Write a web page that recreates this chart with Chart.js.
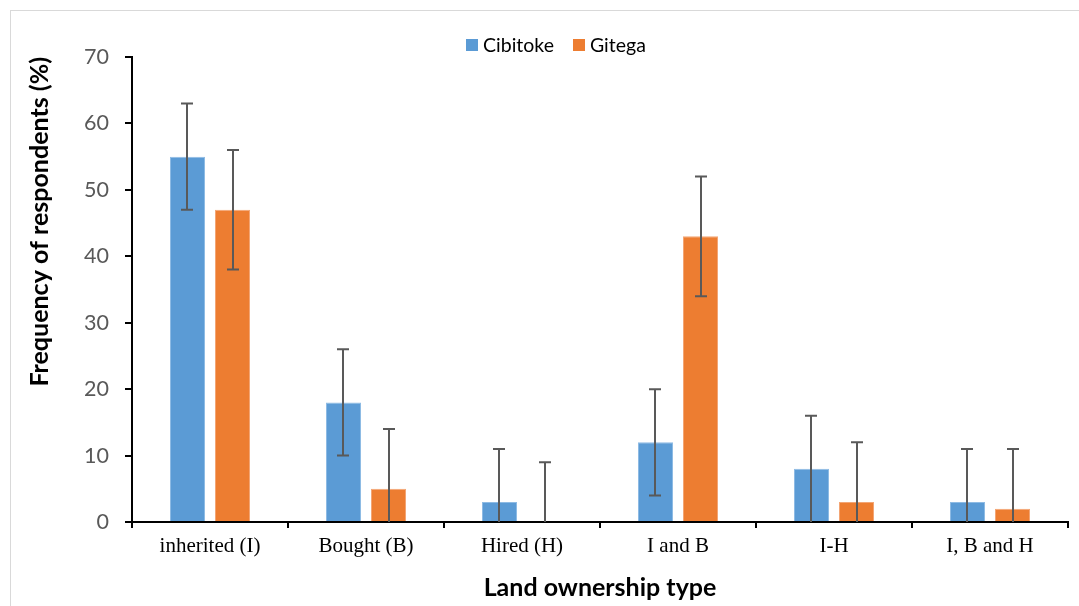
<!DOCTYPE html>
<html>
<head>
<meta charset="utf-8">
<script src="https://cdn.jsdelivr.net/npm/chart.js@4"></script>
<style>
    body { margin: 0; background: #fff; overflow: hidden; }
    #wrap { position: relative; width: 1079px; height: 606px; }
    #frame { position: absolute; left: 10px; top: 10px; width: 1100px; height: 700px; border: 1px solid #d9d9d9; box-sizing: border-box; }
    #legend { position: absolute; left: 466px; top: 33px; display: flex; align-items: center; font-family: Lato, sans-serif; font-size: 19.5px; color: #000; }
    #legend .item { display: flex; align-items: center; margin-right: 19px; }
    #legend .box { width: 12px; height: 12px; margin-right: 5px; }
    canvas { position: absolute; left: 0; top: 0; }
</style>
</head>
<body>
<div id="wrap">
    <div id="frame"></div>
    <canvas id="chart" width="1079" height="606"></canvas>
    <div id="legend"></div>
</div>
<script>
const categories = ['inherited (I)', 'Bought (B)', 'Hired (H)', 'I and B', 'I-H', 'I, B and H'];
const cibitoke = [55, 18, 3, 12, 8, 3];
const gitega = [47, 5, 0, 43, 3, 2];
const cibitokeErr = [8, 8, 8, 8, 8, 8];
const gitegaErr = [9, 9, 9, 9, 9, 9];
const seriesNames = ['Cibitoke', 'Gitega'];
const seriesColors = ['#5B9BD5', '#ED7D31'];
const errors = [cibitokeErr, gitegaErr];

// legend in html so it sits where the original one is
const legend = document.getElementById('legend');
seriesNames.forEach((name, i) => {
    const item = document.createElement('div');
    item.className = 'item';
    const box = document.createElement('div');
    box.className = 'box';
    box.style.background = seriesColors[i];
    const label = document.createElement('span');
    label.innerText = name;
    item.appendChild(box);
    item.appendChild(label);
    legend.appendChild(item);
});

// error bars, clipped at zero like the Excel original
const errorBars = {
    id: 'errorBars',
    afterDatasetsDraw(chart) {
        const ctx = chart.ctx;
        const y = chart.scales.y;
        ctx.save();
        ctx.strokeStyle = '#595959';
        ctx.lineWidth = 2;
        chart.data.datasets.forEach((ds, i) => {
            const meta = chart.getDatasetMeta(i);
            meta.data.forEach((bar, j) => {
                const v = ds.data[j];
                const e = errors[i][j];
                const x = Math.round(bar.x);
                const top = y.getPixelForValue(v + e);
                const low = Math.max(0, v - e);
                const bot = y.getPixelForValue(low);
                ctx.beginPath();
                ctx.moveTo(x, top);
                ctx.lineTo(x, bot);
                ctx.moveTo(x - 6, top);
                ctx.lineTo(x + 6, top);
                if (low > 0) {
                    ctx.moveTo(x - 6, bot);
                    ctx.lineTo(x + 6, bot);
                }
                ctx.stroke();
            });
        });
        ctx.restore();
    }
};

const ctx = document.getElementById('chart').getContext('2d');
new Chart(ctx, {
    type: 'bar',
    data: {
        labels: categories,
        datasets: [
            { label: seriesNames[0], data: cibitoke, backgroundColor: seriesColors[0], borderColor: '#8EBBE4', borderWidth: 1 },
            { label: seriesNames[1], data: gitega, backgroundColor: seriesColors[1], borderColor: '#F3A675', borderWidth: 1 }
        ]
    },
    options: {
        responsive: false,
        animation: false,
        categoryPercentage: 0.577,
        barPercentage: 0.778,
        layout: { padding: { left: 0, top: 57, right: 11, bottom: 0 } },
        plugins: {
            legend: { display: false },
            tooltip: { enabled: false }
        },
        scales: {
            x: {
                grid: { drawOnChartArea: false, color: '#000', lineWidth: 2, tickLength: 6, offset: true },
                border: { color: '#000', width: 2 },
                ticks: { color: '#000', padding: 6, font: { family: 'Liberation Serif', size: 21 } },
                title: {
                    display: true,
                    text: 'Land ownership type',
                    color: '#000',
                    font: { family: 'Lato', size: 25, weight: 'bold' },
                    padding: { top: 0, bottom: 3 }
                },
                afterFit(s) { s.height = 84; s.paddingLeft = 0; s.paddingRight = 0; }
            },
            y: {
                min: 0,
                max: 70,
                ticks: { stepSize: 10, color: '#595959', padding: 16, font: { family: 'Lato', size: 21.5 } },
                grid: { drawOnChartArea: false, color: '#000', lineWidth: 2, tickLength: 7 },
                border: { color: '#000', width: 2 },
                title: {
                    display: true,
                    text: 'Frequency of respondents (%)',
                    align: 'end',
                    color: '#000',
                    font: { family: 'Lato', size: 25, weight: 'bold' },
                    padding: { top: 25, bottom: 0 }
                },
                afterFit(s) { s.width = 132; s.paddingTop = 0; s.paddingBottom = 0; }
            }
        }
    },
    plugins: [errorBars]
});
</script>
</body>
</html>
